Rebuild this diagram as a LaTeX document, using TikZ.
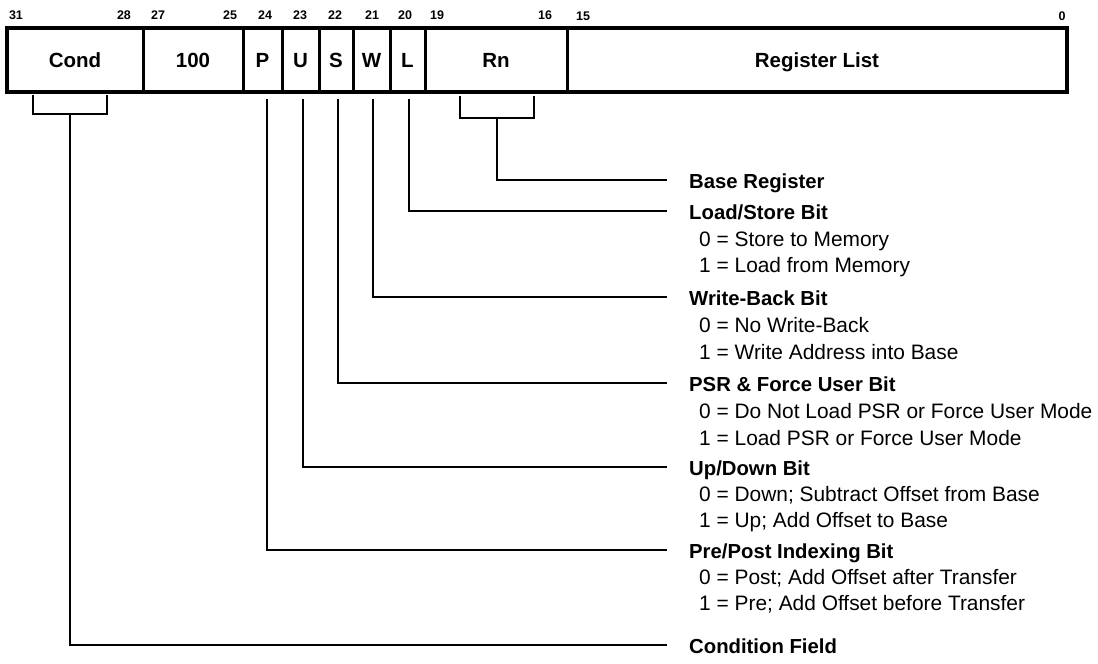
\documentclass[tikz,border=0pt]{standalone}
\usepackage{fontspec}
\setmainfont{Liberation Sans}
\begin{document}
\begin{tikzpicture}[x=1pt,y=-1pt,
  cell/.style={draw, line width=3pt, minimum height=64pt, inner sep=0pt, outer sep=0pt,
    text height=14.7pt, text depth=0pt,
    font=\fontsize{20.5}{24}\selectfont\bfseries},
  bitnum/.style={font=\fontsize{12.5}{14}\selectfont\bfseries, inner sep=0pt},
  hdr/.style={anchor=base west, inner sep=0pt, font=\fontsize{20.3}{24}\selectfont\bfseries},
  sub/.style={anchor=base west, inner sep=0pt, font=\fontsize{20.9}{24}\selectfont},
  conn/.style={line width=2pt},
  brk/.style={line width=2.5pt}
]
\useasboundingbox (0,0) rectangle (1098,664);

% --- instruction word cells ---
\node[cell, minimum width=136pt] (cond) at (75,60) {Cond};
\node[cell, minimum width=100pt] (f100) at (193,60) {100};
\node[cell, minimum width=39pt] (P) at (262.5,60) {P};
\node[cell, minimum width=37pt] (U) at (300.5,60) {U};
\node[cell, minimum width=34pt] (S) at (336,60) {S};
\node[cell, minimum width=37pt] (W) at (371.5,60) {W};
\node[cell, minimum width=35pt] (L) at (407.5,60) {L};
\node[cell, minimum width=142pt] (Rn) at (496,60) {Rn};
\node[cell, minimum width=500pt] (reglist) at (817,60) {Register List};
\draw[line width=4pt] (cond.north west) rectangle (reglist.south east);

% --- bit numbers ---
\node[bitnum] (b31) at (16,15) {31};
\node[bitnum] (b28) at (124,15) {28};
\node[bitnum] (b27) at (158,15) {27};
\node[bitnum] (b25) at (230,15) {25};
\node[bitnum] (b24) at (265,15) {24};
\node[bitnum] (b23) at (300,15) {23};
\node[bitnum] (b22) at (335,15) {22};
\node[bitnum] (b21) at (372,15) {21};
\node[bitnum] (b20) at (405,15) {20};
\node[bitnum] (b19) at (437,15) {19};
\node[bitnum] (b16) at (545,15) {16};
\node[bitnum] (b15) at (583,16) {15};
\node[bitnum] (b0) at (1062,16) {0};

% --- descriptions ---
\node[hdr] (hBR) at (689,188) {Base Register};
\node[hdr] (hLS) at (689,219) {Load/Store Bit};
\node[sub] (sLS0) at (699,246) {0 = Store to Memory};
\node[sub] (sLS1) at (699,272) {1 = Load from Memory};
\node[hdr] (hWB) at (689,305) {Write-Back Bit};
\node[sub] (sWB0) at (699,332) {0 = No Write-Back};
\node[sub] (sWB1) at (699,359) {1 = Write Address into Base};
\node[hdr] (hPSR) at (689,391) {PSR \& Force User Bit};
\node[sub] (sPSR0) at (699,418) {0 = Do Not Load PSR or Force User Mode};
\node[sub] (sPSR1) at (699,445) {1 = Load PSR or Force User Mode};
\node[hdr] (hUD) at (689,475) {Up/Down Bit};
\node[sub] (sUD0) at (699,501) {0 = Down; Subtract Offset from Base};
\node[sub] (sUD1) at (699,527) {1 = Up; Add Offset to Base};
\node[hdr] (hPP) at (689,558) {Pre/Post Indexing Bit};
\node[sub] (sPP0) at (699,584) {0 = Post; Add Offset after Transfer};
\node[sub] (sPP1) at (699,610) {1 = Pre; Add Offset before Transfer};
\node[hdr] (hCF) at (689,653) {Condition Field};

% --- connector end points ---
\coordinate (eBR) at (667,180);
\coordinate (eLS) at (667,211);
\coordinate (eWB) at (667,297);
\coordinate (ePSR) at (667,383);
\coordinate (eUD) at (667,467);
\coordinate (ePP) at (667,550);
\coordinate (eCF) at (667,645);
\coordinate (cbr) at (70,114);
\coordinate (rbr) at (497,118);

% --- brackets ---
\draw[brk] ([xshift=-42pt,yshift=-3pt]cond.south) |- (cbr) -| ([xshift=32pt,yshift=-3pt]cond.south);
\draw[brk] ([xshift=-36pt,yshift=-4pt]Rn.south) |- (rbr) -| ([xshift=38pt,yshift=-4pt]Rn.south);

% --- connectors ---
\draw[conn] (rbr) |- (eBR);
\draw[conn] ([xshift=1pt,yshift=-7pt]L.south) |- (eLS);
\draw[conn] ([xshift=1pt,yshift=-7pt]W.south) |- (eWB);
\draw[conn] ([xshift=2pt,yshift=-7pt]S.south) |- (ePSR);
\draw[conn] ([xshift=2pt,yshift=-7pt]U.south) |- (eUD);
\draw[conn] ([xshift=4pt,yshift=-7pt]P.south) |- (ePP);
\draw[conn] (cbr) |- (eCF);
\end{tikzpicture}
\end{document}
